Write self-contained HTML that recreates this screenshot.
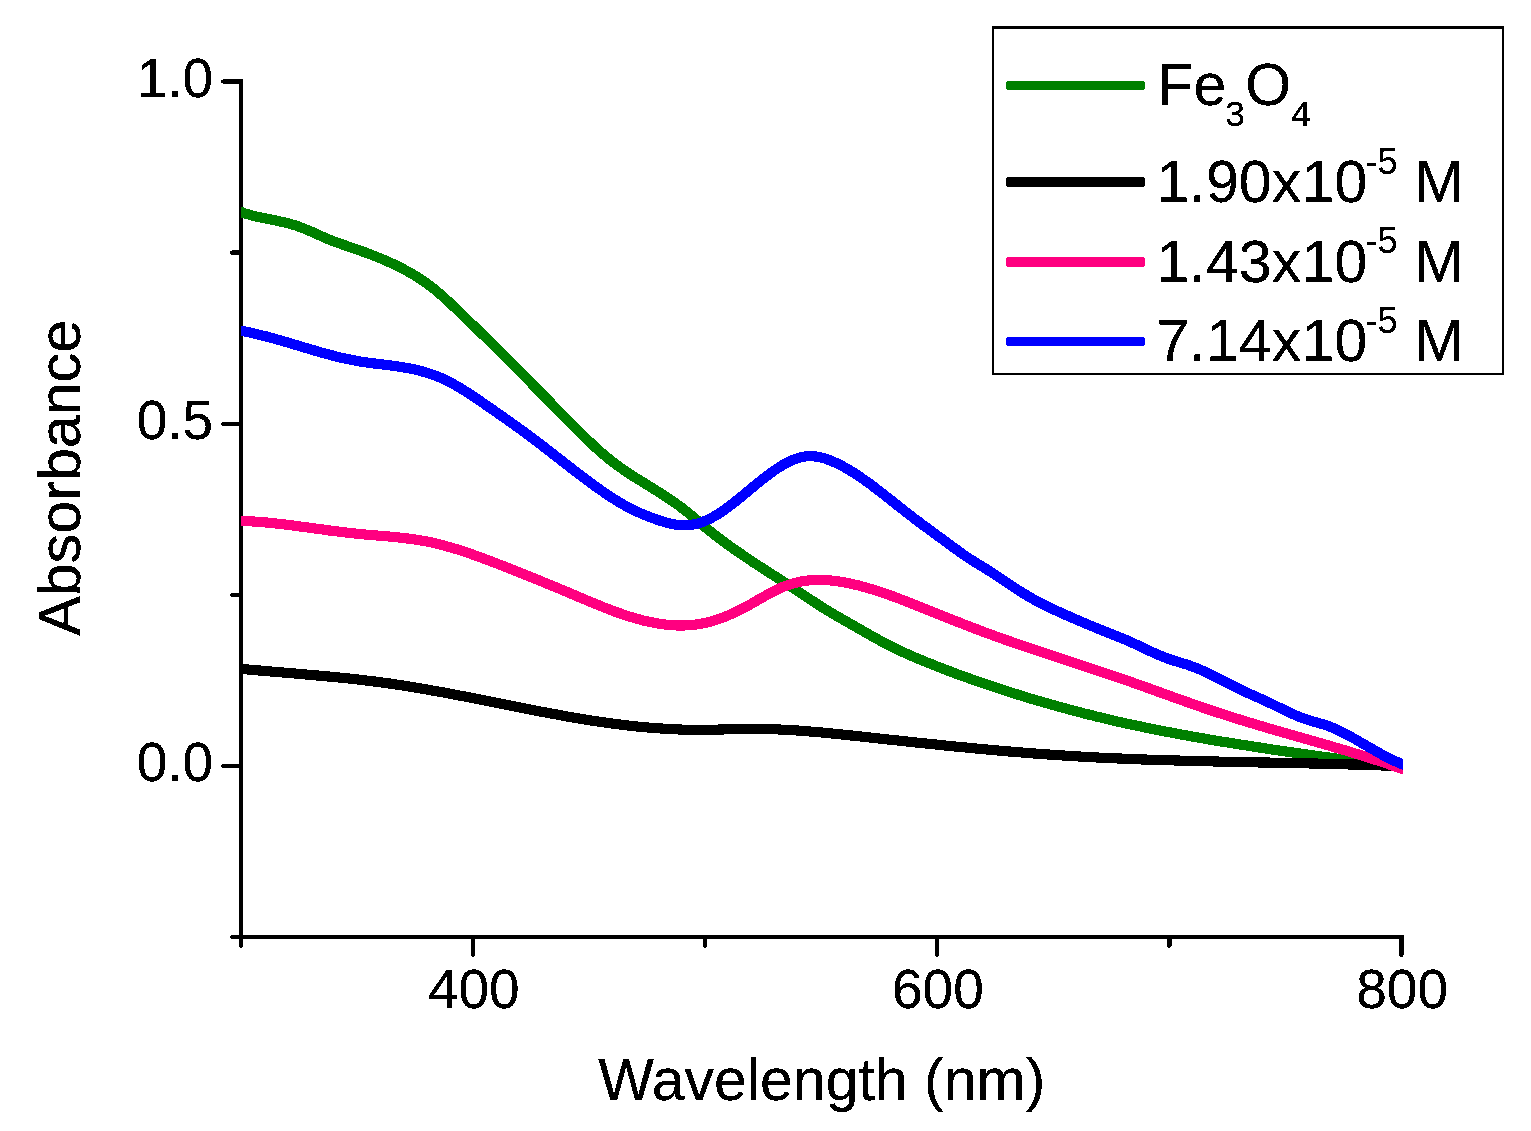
<!DOCTYPE html>
<html lang="en"><head><meta charset="utf-8"><title>Absorbance vs Wavelength</title>
<style>
html,body{margin:0;padding:0;background:#fff;}
body{width:1531px;height:1131px;overflow:hidden;}
svg{display:block;}
text{font-family:"Liberation Sans",Arial,Helvetica,sans-serif;fill:#000;}
.tk{font-size:55px;}
.ti{font-size:59px;}
.lg{font-size:59px;letter-spacing:0.15px;}
.ss{font-size:35.2px;letter-spacing:0;}
.sp{font-size:36.3px;letter-spacing:0;}
.ax{stroke:#000;stroke-width:4.4;fill:none;stroke-linecap:round;shape-rendering:crispEdges;}
.cv{fill:none;stroke-width:10.2;stroke-linejoin:round;stroke-linecap:butt;shape-rendering:crispEdges;}
</style></head><body>
<svg width="1531" height="1131" viewBox="0 0 1531 1131">
<defs>
<filter id="crisp" filterUnits="userSpaceOnUse" x="0" y="0" width="1531" height="1131" color-interpolation-filters="sRGB">
<feComponentTransfer><feFuncA type="discrete" tableValues="0 1 1"/></feComponentTransfer>
</filter>
</defs>
<rect width="1531" height="1131" fill="#fff"/>

<!-- axes -->
<g class="ax">
<path d="M241,81.5 L241,937 L1401.4,937" stroke-linecap="square" stroke-linejoin="miter"/>
<line x1="241" y1="81.5" x2="223.3" y2="81.5"/>
<line x1="241" y1="252.6" x2="232.3" y2="252.6"/>
<line x1="241" y1="423.8" x2="223.3" y2="423.8"/>
<line x1="241" y1="594.9" x2="232.3" y2="594.9"/>
<line x1="241" y1="766.0" x2="223.3" y2="766.0"/>
<line x1="241" y1="937.1" x2="232.3" y2="937.1"/>
<line x1="241.0" y1="937" x2="241.0" y2="945.7"/>
<line x1="473.1" y1="937" x2="473.1" y2="954.7"/>
<line x1="705.2" y1="937" x2="705.2" y2="945.7"/>
<line x1="937.2" y1="937" x2="937.2" y2="954.7"/>
<line x1="1169.3" y1="937" x2="1169.3" y2="945.7"/>
<line x1="1401.4" y1="937" x2="1401.4" y2="954.7"/>
</g>
<!-- tick labels -->
<g filter="url(#crisp)">
<text class="tk" x="213.1" y="97.2" text-anchor="end">1.0</text>
<text class="tk" x="213.1" y="439.4" text-anchor="end">0.5</text>
<text class="tk" x="213.1" y="781.2" text-anchor="end">0.0</text>
<text class="tk" x="473.8" y="1008.4" text-anchor="middle">400</text>
<text class="tk" x="937.9" y="1008.4" text-anchor="middle">600</text>
<text class="tk" x="1402.1" y="1008.4" text-anchor="middle">800</text>
<!-- axis titles -->
<text class="ti" x="598.3" y="1099.9" letter-spacing="0">Wavelength (nm)</text>
<text class="ti" transform="translate(80,635.6) rotate(-90)" letter-spacing="0.1">Absorbance</text>
</g>
<!-- data curves -->
<clipPath id="plotclip"><rect x="241" y="0" width="1162" height="1131"/></clipPath>
<g clip-path="url(#plotclip)">
<path class="cv" stroke="#008000" d="M233.0,209.2 L241.0,212.0 L244.0,213.1 L247.0,214.0 L250.0,214.9 L253.0,215.7 L256.0,216.4 L259.0,217.1 L262.0,217.8 L265.0,218.4 L268.0,219.0 L271.0,219.6 L274.0,220.2 L277.0,220.8 L280.0,221.5 L283.0,222.1 L286.0,222.8 L289.0,223.6 L292.0,224.4 L295.0,225.3 L298.0,226.3 L301.0,227.4 L304.0,228.6 L307.0,229.8 L310.0,231.1 L313.0,232.4 L316.0,233.8 L319.0,235.1 L322.0,236.5 L325.0,237.8 L328.0,239.1 L331.0,240.3 L334.0,241.4 L337.0,242.6 L340.0,243.6 L343.0,244.7 L346.0,245.7 L349.0,246.8 L352.0,247.8 L355.0,248.8 L358.0,249.9 L361.0,250.9 L364.0,252.0 L367.0,253.1 L370.0,254.2 L373.0,255.4 L376.0,256.6 L379.0,257.8 L382.0,259.0 L385.0,260.3 L388.0,261.6 L391.0,263.0 L394.0,264.4 L397.0,265.8 L400.0,267.3 L403.0,268.9 L406.0,270.5 L409.0,272.1 L412.0,273.8 L415.0,275.6 L418.0,277.4 L421.0,279.4 L424.0,281.4 L427.0,283.5 L430.0,285.8 L433.0,288.1 L436.0,290.6 L439.0,293.1 L442.0,295.7 L445.0,298.4 L448.0,301.2 L451.0,304.0 L454.0,306.8 L457.0,309.7 L460.0,312.5 L463.0,315.4 L466.0,318.4 L469.0,321.3 L472.0,324.2 L475.0,327.1 L478.0,330.0 L481.0,332.9 L484.0,335.8 L487.0,338.8 L490.0,341.7 L493.0,344.6 L496.0,347.6 L499.0,350.6 L502.0,353.5 L505.0,356.5 L508.0,359.5 L511.0,362.5 L514.0,365.5 L517.0,368.5 L520.0,371.6 L523.0,374.6 L526.0,377.7 L529.0,380.7 L532.0,383.8 L535.0,386.9 L538.0,389.9 L541.0,393.0 L544.0,396.1 L547.0,399.1 L550.0,402.2 L553.0,405.2 L556.0,408.3 L559.0,411.4 L562.0,414.4 L565.0,417.4 L568.0,420.5 L571.0,423.5 L574.0,426.5 L577.0,429.5 L580.0,432.5 L583.0,435.4 L586.0,438.3 L589.0,441.2 L592.0,444.1 L595.0,446.9 L598.0,449.6 L601.0,452.3 L604.0,454.9 L607.0,457.4 L610.0,459.8 L613.0,462.2 L616.0,464.4 L619.0,466.6 L622.0,468.7 L625.0,470.8 L628.0,472.8 L631.0,474.8 L634.0,476.7 L637.0,478.6 L640.0,480.4 L643.0,482.3 L646.0,484.1 L649.0,486.0 L652.0,487.8 L655.0,489.7 L658.0,491.6 L661.0,493.5 L664.0,495.4 L667.0,497.4 L670.0,499.4 L673.0,501.5 L676.0,503.6 L679.0,505.7 L682.0,508.0 L685.0,510.3 L688.0,512.7 L691.0,515.1 L694.0,517.6 L697.0,520.2 L700.0,522.7 L703.0,525.3 L706.0,527.8 L709.0,530.3 L712.0,532.7 L715.0,535.1 L718.0,537.4 L721.0,539.7 L724.0,541.9 L727.0,544.1 L730.0,546.3 L733.0,548.4 L736.0,550.5 L739.0,552.6 L742.0,554.6 L745.0,556.7 L748.0,558.7 L751.0,560.7 L754.0,562.7 L757.0,564.7 L760.0,566.6 L763.0,568.6 L766.0,570.5 L769.0,572.5 L772.0,574.4 L775.0,576.3 L778.0,578.2 L781.0,580.1 L784.0,582.1 L787.0,584.0 L790.0,586.0 L793.0,588.0 L796.0,590.0 L799.0,592.0 L802.0,594.0 L805.0,596.0 L808.0,598.0 L811.0,600.0 L814.0,601.9 L817.0,603.9 L820.0,605.8 L823.0,607.7 L826.0,609.6 L829.0,611.4 L832.0,613.2 L835.0,615.0 L838.0,616.7 L841.0,618.4 L844.0,620.1 L847.0,621.8 L850.0,623.5 L853.0,625.3 L856.0,627.0 L859.0,628.7 L862.0,630.4 L865.0,632.2 L868.0,633.9 L871.0,635.6 L874.0,637.3 L877.0,638.9 L880.0,640.6 L883.0,642.2 L886.0,643.8 L889.0,645.3 L892.0,646.9 L895.0,648.3 L898.0,649.8 L901.0,651.2 L904.0,652.6 L907.0,653.9 L910.0,655.3 L913.0,656.6 L916.0,657.9 L919.0,659.1 L922.0,660.4 L925.0,661.6 L928.0,662.8 L931.0,664.0 L934.0,665.2 L937.0,666.4 L940.0,667.6 L943.0,668.7 L946.0,669.9 L949.0,671.0 L952.0,672.1 L955.0,673.3 L958.0,674.4 L961.0,675.5 L964.0,676.5 L967.0,677.6 L970.0,678.7 L973.0,679.8 L976.0,680.8 L979.0,681.9 L982.0,682.9 L985.0,683.9 L988.0,684.9 L991.0,685.9 L994.0,686.9 L997.0,687.9 L1000.0,688.9 L1003.0,689.9 L1006.0,690.9 L1009.0,691.8 L1012.0,692.8 L1015.0,693.7 L1018.0,694.7 L1021.0,695.6 L1024.0,696.5 L1027.0,697.4 L1030.0,698.4 L1033.0,699.3 L1036.0,700.1 L1039.0,701.0 L1042.0,701.9 L1045.0,702.8 L1048.0,703.6 L1051.0,704.5 L1054.0,705.3 L1057.0,706.2 L1060.0,707.0 L1063.0,707.8 L1066.0,708.6 L1069.0,709.5 L1072.0,710.3 L1075.0,711.0 L1078.0,711.8 L1081.0,712.6 L1084.0,713.4 L1087.0,714.1 L1090.0,714.9 L1093.0,715.6 L1096.0,716.4 L1099.0,717.1 L1102.0,717.8 L1105.0,718.6 L1108.0,719.3 L1111.0,720.0 L1114.0,720.7 L1117.0,721.4 L1120.0,722.1 L1123.0,722.7 L1126.0,723.4 L1129.0,724.1 L1132.0,724.7 L1135.0,725.4 L1138.0,726.0 L1141.0,726.6 L1144.0,727.3 L1147.0,727.9 L1150.0,728.5 L1153.0,729.1 L1156.0,729.7 L1159.0,730.3 L1162.0,730.9 L1165.0,731.5 L1168.0,732.0 L1171.0,732.6 L1174.0,733.2 L1177.0,733.7 L1180.0,734.3 L1183.0,734.8 L1186.0,735.4 L1189.0,735.9 L1192.0,736.5 L1195.0,737.0 L1198.0,737.5 L1201.0,738.0 L1204.0,738.5 L1207.0,739.1 L1210.0,739.6 L1213.0,740.1 L1216.0,740.6 L1219.0,741.1 L1222.0,741.6 L1225.0,742.1 L1228.0,742.5 L1231.0,743.0 L1234.0,743.5 L1237.0,744.0 L1240.0,744.5 L1243.0,744.9 L1246.0,745.4 L1249.0,745.9 L1252.0,746.3 L1255.0,746.8 L1258.0,747.3 L1261.0,747.7 L1264.0,748.2 L1267.0,748.6 L1270.0,749.1 L1273.0,749.6 L1276.0,750.0 L1279.0,750.5 L1282.0,750.9 L1285.0,751.4 L1288.0,751.8 L1291.0,752.2 L1294.0,752.7 L1297.0,753.1 L1300.0,753.5 L1303.0,754.0 L1306.0,754.4 L1309.0,754.8 L1312.0,755.3 L1315.0,755.7 L1318.0,756.1 L1321.0,756.5 L1324.0,756.9 L1327.0,757.3 L1330.0,757.7 L1333.0,758.1 L1336.0,758.5 L1339.0,758.9 L1342.0,759.3 L1345.0,759.7 L1348.0,760.1 L1351.0,760.4 L1354.0,760.8 L1357.0,761.2 L1360.0,761.5 L1363.0,761.9 L1366.0,762.2 L1369.0,762.6 L1372.0,762.9 L1375.0,763.3 L1378.0,763.6 L1381.0,763.9 L1384.0,764.2 L1387.0,764.6 L1390.0,764.9 L1393.0,765.2 L1396.0,765.5 L1399.0,765.8 L1402.0,766.0 L1403.0,766.1 L1411.0,766.9"/>
<path class="cv" stroke="#000000" d="M233.0,668.1 L241.0,668.8 L244.0,669.1 L247.0,669.4 L250.0,669.7 L253.0,669.9 L256.0,670.2 L259.0,670.5 L262.0,670.7 L265.0,671.0 L268.0,671.3 L271.0,671.5 L274.0,671.8 L277.0,672.0 L280.0,672.3 L283.0,672.5 L286.0,672.8 L289.0,673.0 L292.0,673.3 L295.0,673.5 L298.0,673.8 L301.0,674.1 L304.0,674.3 L307.0,674.6 L310.0,674.8 L313.0,675.1 L316.0,675.4 L319.0,675.6 L322.0,675.9 L325.0,676.2 L328.0,676.5 L331.0,676.7 L334.0,677.0 L337.0,677.3 L340.0,677.6 L343.0,677.9 L346.0,678.2 L349.0,678.5 L352.0,678.9 L355.0,679.2 L358.0,679.5 L361.0,679.9 L364.0,680.2 L367.0,680.6 L370.0,680.9 L373.0,681.3 L376.0,681.7 L379.0,682.1 L382.0,682.5 L385.0,682.9 L388.0,683.3 L391.0,683.7 L394.0,684.2 L397.0,684.6 L400.0,685.1 L403.0,685.5 L406.0,686.0 L409.0,686.5 L412.0,687.0 L415.0,687.5 L418.0,688.0 L421.0,688.5 L424.0,689.0 L427.0,689.5 L430.0,690.1 L433.0,690.6 L436.0,691.1 L439.0,691.7 L442.0,692.2 L445.0,692.8 L448.0,693.4 L451.0,693.9 L454.0,694.5 L457.0,695.1 L460.0,695.7 L463.0,696.2 L466.0,696.8 L469.0,697.4 L472.0,698.0 L475.0,698.6 L478.0,699.2 L481.0,699.8 L484.0,700.4 L487.0,701.0 L490.0,701.6 L493.0,702.2 L496.0,702.8 L499.0,703.4 L502.0,704.0 L505.0,704.6 L508.0,705.2 L511.0,705.8 L514.0,706.4 L517.0,707.0 L520.0,707.6 L523.0,708.2 L526.0,708.7 L529.0,709.3 L532.0,709.9 L535.0,710.5 L538.0,711.1 L541.0,711.6 L544.0,712.2 L547.0,712.8 L550.0,713.3 L553.0,713.9 L556.0,714.4 L559.0,715.0 L562.0,715.5 L565.0,716.1 L568.0,716.6 L571.0,717.1 L574.0,717.6 L577.0,718.1 L580.0,718.6 L583.0,719.1 L586.0,719.6 L589.0,720.1 L592.0,720.6 L595.0,721.0 L598.0,721.5 L601.0,721.9 L604.0,722.4 L607.0,722.8 L610.0,723.2 L613.0,723.6 L616.0,724.0 L619.0,724.4 L622.0,724.8 L625.0,725.1 L628.0,725.5 L631.0,725.8 L634.0,726.1 L637.0,726.5 L640.0,726.8 L643.0,727.0 L646.0,727.3 L649.0,727.6 L652.0,727.8 L655.0,728.1 L658.0,728.3 L661.0,728.5 L664.0,728.7 L667.0,728.9 L670.0,729.1 L673.0,729.2 L676.0,729.3 L679.0,729.5 L682.0,729.6 L685.0,729.7 L688.0,729.7 L691.0,729.8 L694.0,729.8 L697.0,729.9 L700.0,729.9 L703.0,729.9 L706.0,729.8 L709.0,729.8 L712.0,729.7 L715.0,729.7 L718.0,729.6 L721.0,729.5 L724.0,729.4 L727.0,729.3 L730.0,729.2 L733.0,729.1 L736.0,729.1 L739.0,729.0 L742.0,728.9 L745.0,728.9 L748.0,728.8 L751.0,728.8 L754.0,728.8 L757.0,728.9 L760.0,728.9 L763.0,728.9 L766.0,729.0 L769.0,729.1 L772.0,729.2 L775.0,729.3 L778.0,729.4 L781.0,729.6 L784.0,729.7 L787.0,729.9 L790.0,730.0 L793.0,730.2 L796.0,730.4 L799.0,730.6 L802.0,730.9 L805.0,731.1 L808.0,731.3 L811.0,731.6 L814.0,731.8 L817.0,732.1 L820.0,732.3 L823.0,732.6 L826.0,732.9 L829.0,733.2 L832.0,733.5 L835.0,733.8 L838.0,734.1 L841.0,734.4 L844.0,734.7 L847.0,735.0 L850.0,735.3 L853.0,735.7 L856.0,736.0 L859.0,736.3 L862.0,736.6 L865.0,737.0 L868.0,737.3 L871.0,737.6 L874.0,737.9 L877.0,738.3 L880.0,738.6 L883.0,738.9 L886.0,739.2 L889.0,739.6 L892.0,739.9 L895.0,740.2 L898.0,740.5 L901.0,740.9 L904.0,741.2 L907.0,741.5 L910.0,741.8 L913.0,742.1 L916.0,742.5 L919.0,742.8 L922.0,743.1 L925.0,743.4 L928.0,743.7 L931.0,744.0 L934.0,744.3 L937.0,744.6 L940.0,745.0 L943.0,745.3 L946.0,745.6 L949.0,745.9 L952.0,746.2 L955.0,746.5 L958.0,746.8 L961.0,747.1 L964.0,747.3 L967.0,747.6 L970.0,747.9 L973.0,748.2 L976.0,748.5 L979.0,748.8 L982.0,749.1 L985.0,749.3 L988.0,749.6 L991.0,749.9 L994.0,750.1 L997.0,750.4 L1000.0,750.7 L1003.0,750.9 L1006.0,751.2 L1009.0,751.5 L1012.0,751.7 L1015.0,752.0 L1018.0,752.2 L1021.0,752.4 L1024.0,752.7 L1027.0,752.9 L1030.0,753.2 L1033.0,753.4 L1036.0,753.6 L1039.0,753.8 L1042.0,754.1 L1045.0,754.3 L1048.0,754.5 L1051.0,754.7 L1054.0,754.9 L1057.0,755.1 L1060.0,755.3 L1063.0,755.5 L1066.0,755.7 L1069.0,755.9 L1072.0,756.1 L1075.0,756.3 L1078.0,756.4 L1081.0,756.6 L1084.0,756.8 L1087.0,756.9 L1090.0,757.1 L1093.0,757.3 L1096.0,757.4 L1099.0,757.6 L1102.0,757.7 L1105.0,757.9 L1108.0,758.0 L1111.0,758.1 L1114.0,758.3 L1117.0,758.4 L1120.0,758.5 L1123.0,758.7 L1126.0,758.8 L1129.0,758.9 L1132.0,759.0 L1135.0,759.1 L1138.0,759.2 L1141.0,759.4 L1144.0,759.5 L1147.0,759.6 L1150.0,759.7 L1153.0,759.8 L1156.0,759.9 L1159.0,760.0 L1162.0,760.1 L1165.0,760.2 L1168.0,760.3 L1171.0,760.3 L1174.0,760.4 L1177.0,760.5 L1180.0,760.6 L1183.0,760.7 L1186.0,760.8 L1189.0,760.8 L1192.0,760.9 L1195.0,761.0 L1198.0,761.1 L1201.0,761.1 L1204.0,761.2 L1207.0,761.3 L1210.0,761.3 L1213.0,761.4 L1216.0,761.5 L1219.0,761.6 L1222.0,761.6 L1225.0,761.7 L1228.0,761.7 L1231.0,761.8 L1234.0,761.9 L1237.0,761.9 L1240.0,762.0 L1243.0,762.1 L1246.0,762.1 L1249.0,762.2 L1252.0,762.2 L1255.0,762.3 L1258.0,762.4 L1261.0,762.4 L1264.0,762.5 L1267.0,762.5 L1270.0,762.6 L1273.0,762.7 L1276.0,762.7 L1279.0,762.8 L1282.0,762.8 L1285.0,762.9 L1288.0,763.0 L1291.0,763.0 L1294.0,763.1 L1297.0,763.1 L1300.0,763.2 L1303.0,763.3 L1306.0,763.3 L1309.0,763.4 L1312.0,763.5 L1315.0,763.5 L1318.0,763.6 L1321.0,763.7 L1324.0,763.7 L1327.0,763.8 L1330.0,763.9 L1333.0,764.0 L1336.0,764.0 L1339.0,764.1 L1342.0,764.2 L1345.0,764.3 L1348.0,764.4 L1351.0,764.4 L1354.0,764.5 L1357.0,764.6 L1360.0,764.7 L1363.0,764.8 L1366.0,764.9 L1369.0,765.0 L1372.0,765.1 L1375.0,765.2 L1378.0,765.3 L1381.0,765.4 L1384.0,765.5 L1387.0,765.6 L1390.0,765.7 L1393.0,765.8 L1396.0,766.0 L1399.0,766.1 L1402.0,766.2 L1403.0,766.2 L1411.0,766.6"/>
<path class="cv" stroke="#ff0080" d="M233.0,520.7 L241.0,520.9 L244.0,521.0 L247.0,521.1 L250.0,521.3 L253.0,521.5 L256.0,521.7 L259.0,521.9 L262.0,522.1 L265.0,522.4 L268.0,522.6 L271.0,522.9 L274.0,523.2 L277.0,523.6 L280.0,523.9 L283.0,524.3 L286.0,524.6 L289.0,525.0 L292.0,525.4 L295.0,525.8 L298.0,526.2 L301.0,526.6 L304.0,527.0 L307.0,527.4 L310.0,527.8 L313.0,528.2 L316.0,528.6 L319.0,529.0 L322.0,529.4 L325.0,529.8 L328.0,530.3 L331.0,530.7 L334.0,531.0 L337.0,531.4 L340.0,531.8 L343.0,532.2 L346.0,532.5 L349.0,532.9 L352.0,533.2 L355.0,533.5 L358.0,533.8 L361.0,534.1 L364.0,534.4 L367.0,534.7 L370.0,534.9 L373.0,535.2 L376.0,535.4 L379.0,535.7 L382.0,535.9 L385.0,536.2 L388.0,536.4 L391.0,536.7 L394.0,537.0 L397.0,537.3 L400.0,537.6 L403.0,537.9 L406.0,538.3 L409.0,538.7 L412.0,539.1 L415.0,539.5 L418.0,540.0 L421.0,540.5 L424.0,541.0 L427.0,541.6 L430.0,542.2 L433.0,542.8 L436.0,543.5 L439.0,544.3 L442.0,545.0 L445.0,545.8 L448.0,546.7 L451.0,547.5 L454.0,548.4 L457.0,549.3 L460.0,550.3 L463.0,551.3 L466.0,552.3 L469.0,553.3 L472.0,554.3 L475.0,555.4 L478.0,556.5 L481.0,557.6 L484.0,558.7 L487.0,559.8 L490.0,560.9 L493.0,562.1 L496.0,563.2 L499.0,564.4 L502.0,565.6 L505.0,566.7 L508.0,567.9 L511.0,569.1 L514.0,570.3 L517.0,571.5 L520.0,572.7 L523.0,573.9 L526.0,575.1 L529.0,576.3 L532.0,577.5 L535.0,578.7 L538.0,580.0 L541.0,581.2 L544.0,582.4 L547.0,583.7 L550.0,584.9 L553.0,586.1 L556.0,587.4 L559.0,588.6 L562.0,589.9 L565.0,591.1 L568.0,592.4 L571.0,593.7 L574.0,595.0 L577.0,596.2 L580.0,597.5 L583.0,598.8 L586.0,600.0 L589.0,601.3 L592.0,602.5 L595.0,603.8 L598.0,605.0 L601.0,606.2 L604.0,607.4 L607.0,608.6 L610.0,609.7 L613.0,610.9 L616.0,612.0 L619.0,613.0 L622.0,614.1 L625.0,615.1 L628.0,616.1 L631.0,617.0 L634.0,617.9 L637.0,618.8 L640.0,619.6 L643.0,620.4 L646.0,621.1 L649.0,621.8 L652.0,622.4 L655.0,623.0 L658.0,623.5 L661.0,624.0 L664.0,624.4 L667.0,624.7 L670.0,625.0 L673.0,625.2 L676.0,625.4 L679.0,625.5 L682.0,625.5 L685.0,625.4 L688.0,625.3 L691.0,625.1 L694.0,624.8 L697.0,624.4 L700.0,623.9 L703.0,623.4 L706.0,622.7 L709.0,622.0 L712.0,621.2 L715.0,620.3 L718.0,619.3 L721.0,618.2 L724.0,617.1 L727.0,615.9 L730.0,614.6 L733.0,613.3 L736.0,611.9 L739.0,610.4 L742.0,608.9 L745.0,607.3 L748.0,605.6 L751.0,604.0 L754.0,602.3 L757.0,600.5 L760.0,598.8 L763.0,597.1 L766.0,595.4 L769.0,593.8 L772.0,592.2 L775.0,590.6 L778.0,589.2 L781.0,587.8 L784.0,586.6 L787.0,585.4 L790.0,584.4 L793.0,583.5 L796.0,582.7 L799.0,582.0 L802.0,581.4 L805.0,580.9 L808.0,580.5 L811.0,580.3 L814.0,580.1 L817.0,580.0 L820.0,579.9 L823.0,580.0 L826.0,580.1 L829.0,580.3 L832.0,580.6 L835.0,580.9 L838.0,581.3 L841.0,581.8 L844.0,582.3 L847.0,582.9 L850.0,583.5 L853.0,584.2 L856.0,584.9 L859.0,585.6 L862.0,586.4 L865.0,587.2 L868.0,588.1 L871.0,589.0 L874.0,589.9 L877.0,590.8 L880.0,591.8 L883.0,592.8 L886.0,593.9 L889.0,594.9 L892.0,596.0 L895.0,597.1 L898.0,598.2 L901.0,599.4 L904.0,600.5 L907.0,601.7 L910.0,602.9 L913.0,604.1 L916.0,605.3 L919.0,606.5 L922.0,607.7 L925.0,608.9 L928.0,610.1 L931.0,611.3 L934.0,612.5 L937.0,613.7 L940.0,614.9 L943.0,616.1 L946.0,617.3 L949.0,618.5 L952.0,619.7 L955.0,620.9 L958.0,622.0 L961.0,623.2 L964.0,624.4 L967.0,625.6 L970.0,626.7 L973.0,627.9 L976.0,629.0 L979.0,630.1 L982.0,631.3 L985.0,632.4 L988.0,633.5 L991.0,634.6 L994.0,635.7 L997.0,636.8 L1000.0,637.9 L1003.0,638.9 L1006.0,640.0 L1009.0,641.0 L1012.0,642.1 L1015.0,643.1 L1018.0,644.2 L1021.0,645.2 L1024.0,646.2 L1027.0,647.3 L1030.0,648.3 L1033.0,649.3 L1036.0,650.3 L1039.0,651.3 L1042.0,652.3 L1045.0,653.3 L1048.0,654.3 L1051.0,655.3 L1054.0,656.3 L1057.0,657.3 L1060.0,658.2 L1063.0,659.2 L1066.0,660.2 L1069.0,661.2 L1072.0,662.2 L1075.0,663.2 L1078.0,664.2 L1081.0,665.1 L1084.0,666.1 L1087.0,667.1 L1090.0,668.1 L1093.0,669.1 L1096.0,670.1 L1099.0,671.1 L1102.0,672.1 L1105.0,673.1 L1108.0,674.1 L1111.0,675.1 L1114.0,676.1 L1117.0,677.2 L1120.0,678.2 L1123.0,679.2 L1126.0,680.3 L1129.0,681.3 L1132.0,682.3 L1135.0,683.4 L1138.0,684.5 L1141.0,685.5 L1144.0,686.6 L1147.0,687.7 L1150.0,688.7 L1153.0,689.8 L1156.0,690.9 L1159.0,692.0 L1162.0,693.1 L1165.0,694.1 L1168.0,695.2 L1171.0,696.3 L1174.0,697.4 L1177.0,698.5 L1180.0,699.5 L1183.0,700.6 L1186.0,701.7 L1189.0,702.7 L1192.0,703.8 L1195.0,704.8 L1198.0,705.9 L1201.0,706.9 L1204.0,708.0 L1207.0,709.0 L1210.0,710.0 L1213.0,711.0 L1216.0,712.0 L1219.0,713.0 L1222.0,713.9 L1225.0,714.9 L1228.0,715.9 L1231.0,716.8 L1234.0,717.8 L1237.0,718.7 L1240.0,719.7 L1243.0,720.6 L1246.0,721.5 L1249.0,722.4 L1252.0,723.3 L1255.0,724.2 L1258.0,725.1 L1261.0,726.0 L1264.0,726.9 L1267.0,727.8 L1270.0,728.7 L1273.0,729.5 L1276.0,730.4 L1279.0,731.3 L1282.0,732.1 L1285.0,733.0 L1288.0,733.9 L1291.0,734.7 L1294.0,735.6 L1297.0,736.4 L1300.0,737.3 L1303.0,738.2 L1306.0,739.0 L1309.0,739.9 L1312.0,740.7 L1315.0,741.6 L1318.0,742.4 L1321.0,743.3 L1324.0,744.2 L1327.0,745.0 L1330.0,745.9 L1333.0,746.8 L1336.0,747.7 L1339.0,748.6 L1342.0,749.4 L1345.0,750.3 L1348.0,751.2 L1351.0,752.1 L1354.0,753.1 L1357.0,754.0 L1360.0,754.9 L1363.0,755.8 L1366.0,756.8 L1369.0,757.7 L1372.0,758.7 L1375.0,759.7 L1378.0,760.6 L1381.0,761.6 L1384.0,762.6 L1387.0,763.6 L1390.0,764.7 L1393.0,765.7 L1396.0,766.7 L1399.0,767.8 L1402.0,768.9 L1403.0,769.2 L1411.0,772.1"/>
<path class="cv" stroke="#0000ff" d="M233.0,329.5 L241.0,330.9 L244.0,331.4 L247.0,332.0 L250.0,332.6 L253.0,333.3 L256.0,333.9 L259.0,334.7 L262.0,335.4 L265.0,336.1 L268.0,336.9 L271.0,337.7 L274.0,338.6 L277.0,339.4 L280.0,340.2 L283.0,341.1 L286.0,342.0 L289.0,342.9 L292.0,343.8 L295.0,344.7 L298.0,345.6 L301.0,346.5 L304.0,347.4 L307.0,348.3 L310.0,349.2 L313.0,350.1 L316.0,350.9 L319.0,351.8 L322.0,352.7 L325.0,353.5 L328.0,354.3 L331.0,355.1 L334.0,355.9 L337.0,356.7 L340.0,357.4 L343.0,358.1 L346.0,358.8 L349.0,359.4 L352.0,360.0 L355.0,360.6 L358.0,361.1 L361.0,361.6 L364.0,362.1 L367.0,362.5 L370.0,362.9 L373.0,363.3 L376.0,363.7 L379.0,364.1 L382.0,364.4 L385.0,364.8 L388.0,365.2 L391.0,365.5 L394.0,365.9 L397.0,366.4 L400.0,366.8 L403.0,367.3 L406.0,367.8 L409.0,368.4 L412.0,369.0 L415.0,369.6 L418.0,370.3 L421.0,371.1 L424.0,371.9 L427.0,372.8 L430.0,373.8 L433.0,374.8 L436.0,375.9 L439.0,377.1 L442.0,378.4 L445.0,379.7 L448.0,381.2 L451.0,382.7 L454.0,384.4 L457.0,386.1 L460.0,387.9 L463.0,389.7 L466.0,391.6 L469.0,393.5 L472.0,395.5 L475.0,397.5 L478.0,399.6 L481.0,401.6 L484.0,403.7 L487.0,405.8 L490.0,407.8 L493.0,409.9 L496.0,412.0 L499.0,414.1 L502.0,416.2 L505.0,418.3 L508.0,420.4 L511.0,422.6 L514.0,424.7 L517.0,426.9 L520.0,429.0 L523.0,431.2 L526.0,433.4 L529.0,435.6 L532.0,437.9 L535.0,440.2 L538.0,442.4 L541.0,444.7 L544.0,447.0 L547.0,449.4 L550.0,451.7 L553.0,454.0 L556.0,456.3 L559.0,458.7 L562.0,461.0 L565.0,463.4 L568.0,465.7 L571.0,468.0 L574.0,470.3 L577.0,472.6 L580.0,474.9 L583.0,477.2 L586.0,479.4 L589.0,481.7 L592.0,483.9 L595.0,486.1 L598.0,488.2 L601.0,490.3 L604.0,492.4 L607.0,494.4 L610.0,496.4 L613.0,498.4 L616.0,500.3 L619.0,502.1 L622.0,503.9 L625.0,505.6 L628.0,507.2 L631.0,508.8 L634.0,510.3 L637.0,511.7 L640.0,513.0 L643.0,514.3 L646.0,515.6 L649.0,516.7 L652.0,517.9 L655.0,518.9 L658.0,520.0 L661.0,521.0 L664.0,521.9 L667.0,522.7 L670.0,523.5 L673.0,524.2 L676.0,524.7 L679.0,525.1 L682.0,525.3 L685.0,525.4 L688.0,525.2 L691.0,524.9 L694.0,524.4 L697.0,523.7 L700.0,522.8 L703.0,521.7 L706.0,520.5 L709.0,519.1 L712.0,517.6 L715.0,515.9 L718.0,514.1 L721.0,512.2 L724.0,510.1 L727.0,508.0 L730.0,505.7 L733.0,503.4 L736.0,501.0 L739.0,498.6 L742.0,496.2 L745.0,493.7 L748.0,491.2 L751.0,488.7 L754.0,486.2 L757.0,483.7 L760.0,481.3 L763.0,478.9 L766.0,476.5 L769.0,474.3 L772.0,472.1 L775.0,470.0 L778.0,468.0 L781.0,466.1 L784.0,464.3 L787.0,462.7 L790.0,461.2 L793.0,459.9 L796.0,458.8 L799.0,457.8 L802.0,457.1 L805.0,456.5 L808.0,456.2 L811.0,456.1 L814.0,456.3 L817.0,456.7 L820.0,457.2 L823.0,458.0 L826.0,458.9 L829.0,460.0 L832.0,461.2 L835.0,462.5 L838.0,463.9 L841.0,465.4 L844.0,467.0 L847.0,468.7 L850.0,470.5 L853.0,472.3 L856.0,474.2 L859.0,476.2 L862.0,478.3 L865.0,480.4 L868.0,482.5 L871.0,484.7 L874.0,487.0 L877.0,489.3 L880.0,491.6 L883.0,493.9 L886.0,496.3 L889.0,498.6 L892.0,501.0 L895.0,503.4 L898.0,505.8 L901.0,508.2 L904.0,510.5 L907.0,512.9 L910.0,515.2 L913.0,517.5 L916.0,519.8 L919.0,522.0 L922.0,524.3 L925.0,526.5 L928.0,528.7 L931.0,530.9 L934.0,533.1 L937.0,535.3 L940.0,537.5 L943.0,539.7 L946.0,541.9 L949.0,544.1 L952.0,546.3 L955.0,548.5 L958.0,550.7 L961.0,552.9 L964.0,555.0 L967.0,557.0 L970.0,559.0 L973.0,560.9 L976.0,562.7 L979.0,564.6 L982.0,566.4 L985.0,568.2 L988.0,570.1 L991.0,572.0 L994.0,574.0 L997.0,576.0 L1000.0,578.0 L1003.0,580.0 L1006.0,582.0 L1009.0,584.0 L1012.0,586.0 L1015.0,588.0 L1018.0,590.0 L1021.0,591.9 L1024.0,593.7 L1027.0,595.5 L1030.0,597.3 L1033.0,599.0 L1036.0,600.6 L1039.0,602.2 L1042.0,603.8 L1045.0,605.3 L1048.0,606.8 L1051.0,608.2 L1054.0,609.6 L1057.0,611.0 L1060.0,612.4 L1063.0,613.7 L1066.0,615.1 L1069.0,616.4 L1072.0,617.7 L1075.0,619.0 L1078.0,620.3 L1081.0,621.6 L1084.0,622.9 L1087.0,624.2 L1090.0,625.4 L1093.0,626.6 L1096.0,627.9 L1099.0,629.1 L1102.0,630.3 L1105.0,631.5 L1108.0,632.7 L1111.0,633.9 L1114.0,635.1 L1117.0,636.3 L1120.0,637.5 L1123.0,638.7 L1126.0,639.9 L1129.0,641.2 L1132.0,642.6 L1135.0,644.0 L1138.0,645.4 L1141.0,646.8 L1144.0,648.2 L1147.0,649.7 L1150.0,651.1 L1153.0,652.5 L1156.0,653.8 L1159.0,655.1 L1162.0,656.4 L1165.0,657.6 L1168.0,658.7 L1171.0,659.7 L1174.0,660.7 L1177.0,661.6 L1180.0,662.5 L1183.0,663.4 L1186.0,664.3 L1189.0,665.3 L1192.0,666.4 L1195.0,667.5 L1198.0,668.7 L1201.0,670.0 L1204.0,671.4 L1207.0,672.8 L1210.0,674.2 L1213.0,675.6 L1216.0,677.1 L1219.0,678.6 L1222.0,680.1 L1225.0,681.7 L1228.0,683.2 L1231.0,684.7 L1234.0,686.3 L1237.0,687.8 L1240.0,689.3 L1243.0,690.7 L1246.0,692.2 L1249.0,693.6 L1252.0,694.9 L1255.0,696.3 L1258.0,697.6 L1261.0,698.9 L1264.0,700.3 L1267.0,701.7 L1270.0,703.1 L1273.0,704.5 L1276.0,706.0 L1279.0,707.5 L1282.0,708.9 L1285.0,710.4 L1288.0,711.8 L1291.0,713.2 L1294.0,714.6 L1297.0,715.8 L1300.0,717.1 L1303.0,718.2 L1306.0,719.3 L1309.0,720.3 L1312.0,721.1 L1315.0,722.0 L1318.0,722.8 L1321.0,723.7 L1324.0,724.6 L1327.0,725.6 L1330.0,726.7 L1333.0,727.9 L1336.0,729.3 L1339.0,730.7 L1342.0,732.1 L1345.0,733.7 L1348.0,735.2 L1351.0,736.9 L1354.0,738.5 L1357.0,740.2 L1360.0,742.0 L1363.0,743.7 L1366.0,745.4 L1369.0,747.2 L1372.0,748.9 L1375.0,750.6 L1378.0,752.3 L1381.0,754.0 L1384.0,755.6 L1387.0,757.2 L1390.0,758.7 L1393.0,760.2 L1396.0,761.5 L1399.0,762.8 L1402.0,764.1 L1403.0,764.5 L1411.0,767.5"/>
</g>
<!-- legend -->
<path d="M992,26H1504V375H992Z M994,29V373H1502V29Z" fill="#000" fill-rule="evenodd"/>
<rect x="1006" y="81" width="139" height="9" rx="2.6" ry="2.6" fill="#008000" shape-rendering="crispEdges"/>
<rect x="1006" y="177" width="139" height="10" rx="2.6" ry="2.6" fill="#000000" shape-rendering="crispEdges"/>
<rect x="1006" y="257" width="139" height="10" rx="2.6" ry="2.6" fill="#ff0080" shape-rendering="crispEdges"/>
<rect x="1006" y="337" width="139" height="9" rx="2.6" ry="2.6" fill="#0000ff" shape-rendering="crispEdges"/>
<g filter="url(#crisp)">
<text class="lg" x="1157.2" y="104.9">Fe<tspan class="ss" x="1225.3" dy="21">3</tspan><tspan x="1245.2" dy="-21">O</tspan><tspan class="ss" x="1291.2" dy="21">4</tspan></text>
<text class="lg" x="1156.4" y="202">1.90x10<tspan class="sp" x="1365.3" dy="-28.4">-5</tspan><tspan x="1398.05" dy="28.4"> M</tspan></text>
<text class="lg" x="1156.4" y="281.8">1.43x10<tspan class="sp" x="1365.3" dy="-28.4">-5</tspan><tspan x="1398.05" dy="28.4"> M</tspan></text>
<text class="lg" x="1156.4" y="360.9">7.14x10<tspan class="sp" x="1365.3" dy="-28.4">-5</tspan><tspan x="1398.05" dy="28.4"> M</tspan></text>
</g>
</svg>
</body></html>
